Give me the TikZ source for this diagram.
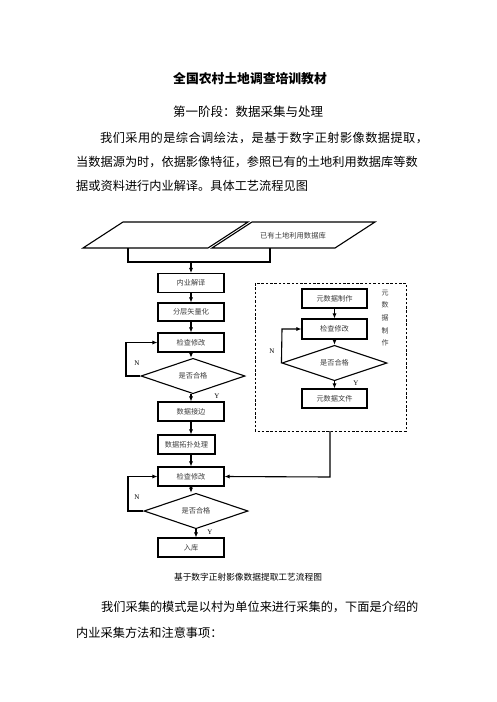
\documentclass[tikz,border=0pt]{standalone}
\usepackage{fontspec}
\setmainfont{Noto Sans CJK SC}
\newfontfamily\latserif{Liberation Serif}
\usetikzlibrary{arrows.meta,shapes.geometric}
\definecolor{lbl}{RGB}{60,60,60}
\tikzset{
  stepbox/.style={draw, line width=1.1pt, minimum height=19pt, inner sep=0pt, text=lbl, font=\fontsize{7.2}{8}\selectfont},
  decide/.style={draw, diamond, line width=1.1pt, minimum width=104pt, minimum height=32pt, inner sep=0pt, text=lbl, font=\fontsize{7.2}{8}\selectfont},
  flow/.style={line width=1.1pt, -{Latex[length=5pt,width=4.2pt]}},
  plain/.style={line width=1.1pt},
  yn/.style={font=\latserif\fontsize{7}{8}\selectfont, inner sep=0pt},
  body/.style={font=\fontsize{12.2}{14}\selectfont, inner sep=0pt, anchor=west},
  vlabel/.style={font=\fontsize{7}{8}\selectfont, text=lbl, inner sep=0pt}
}
\begin{document}
\begin{tikzpicture}[x=1pt,y=-1pt]
\useasboundingbox (0,0) rectangle (496,702);
% text
\node[font=\bfseries\fontsize{12.8}{14}\selectfont, inner sep=0pt] (title) at (250,79) {全国农村土地调查培训教材};
\node[font=\fontsize{12.5}{14}\selectfont, inner sep=0pt] (sub) at (248,112) {第一阶段：数据采集与处理};
\node[body] (p1) at (100,138) {\addfontfeature{LetterSpace=3.5}我们采用的是综合调绘法，是基于数字正射影像数据提取，};
\node[body] (p2) at (76,162) {当数据源为时，依据影像特征，参照已有的土地利用数据库等数};
\node[body] (p3) at (76,186) {据或资料进行内业解译。具体工艺流程见图};
\node[body] (q1) at (101,607) {我们采集的模式是以村为单位来进行采集的，下面是介绍的};
\node[body] (q2) at (76,633) {内业采集方法和注意事项：};
\node[font=\fontsize{8.7}{10}\selectfont, inner sep=0pt] (cap) at (248,577) {基于数字正射影像数据提取工艺流程图};

% input parallelograms
\draw[plain] (83,248) -- (123,222) -- (248,222) -- (208,248) -- cycle;
\draw[plain] (212,248) -- (252,222) -- (375,222) -- (335,248) -- cycle;
\node[text=lbl, font=\fontsize{7.3}{8}\selectfont, inner sep=0pt] (db) at (293,236) {已有土地利用数据库};
\coordinate (brL) at (128,248);
\coordinate (brR) at (270,248);
\coordinate (brM) at (191,262);
\draw[plain] (brL) -- (128,262) -- (270,262) -- (brR);

% left column
\node[stepbox, minimum width=66pt] (b1) at (191,283) {内业解译};
\node[stepbox, minimum width=66pt, minimum height=18pt] (b2) at (191,312) {分层矢量化};
\node[stepbox, minimum width=66pt] (b3) at (191,342.5) {检查修改};
\node[decide] (d1) at (193,376) {是否合格};
\node[stepbox, minimum width=66pt] (b4) at (191,411.5) {数据接边};
\node[stepbox, minimum width=57pt] (b5) at (186.5,444.5) {数据拓扑处理};
\node[stepbox, minimum width=66pt] (b6) at (191,476.5) {检查修改};
\node[decide] (d2) at (196,511) {是否合格};
\node[stepbox, minimum width=66pt] (b7) at (191,547.5) {入库};

\draw[flow] (brM) -- (b1.north);
\draw[flow] (b1) -- (b2);
\draw[flow] (b2) -- (b3);
\draw[flow] (b3.south) -- (b3.south |- d1.north);
\draw[flow] (d1.south -| b4.north) -- (b4.north);
\draw[flow] (b4) -- (b5.north -| b4.south);
\draw[flow] (b5.south -| b6.north) -- (b6.north);
\draw[flow] (b6.south) -- (b6.south |- d2.north);
\draw[flow] (d2.south) -- (d2.south |- b7.north);
\draw[flow] (d1.west) -- (126,376) -- (126,342.5) -- (b3.west);
\draw[flow] (d2.west) -- (128,511) -- (128,476.5) -- (b6.west);
\node[yn] (n1) at (137,363) {N};
\node[yn] (y1) at (217,396) {Y};
\node[yn] (n2) at (137,497) {N};
\node[yn] (y2) at (210,532) {Y};

% right (dashed) group
\draw[line width=0.9pt, dash pattern=on 2.5pt off 1.8pt] (255,283) rectangle (406,431);
\coordinate (grpB) at (330,431);
\node[stepbox, minimum width=65pt] (r1) at (334.5,298.5) {元数据制作};
\node[stepbox, minimum width=65pt, minimum height=20pt] (r2) at (334.5,329) {检查修改};
\node[decide, minimum width=105pt, minimum height=30pt] (rd) at (334.5,363) {是否合格};
\node[stepbox, minimum width=65pt] (r3) at (334.5,398.5) {元数据文件};
\draw[flow] (r1) -- (r2);
\draw[flow] (r2.south) -- (rd.north);
\draw[flow] (rd.south) -- (r3.north);
\draw[flow] (rd.west) -- (282,329) -- (r2.west);
\node[yn] (n3) at (272,351) {N};
\node[yn] (y3) at (356,383) {Y};
\node[vlabel] (v1) at (385,293) {元};
\node[vlabel] (v2) at (385,305) {数};
\node[vlabel] (v3) at (385,318) {据};
\node[vlabel] (v4) at (385,331) {制};
\node[vlabel] (v5) at (385,343) {作};
\draw[flow] (grpB) -- (330,477) -- (b6.east |- 330,476.5);
\end{tikzpicture}
\end{document}
